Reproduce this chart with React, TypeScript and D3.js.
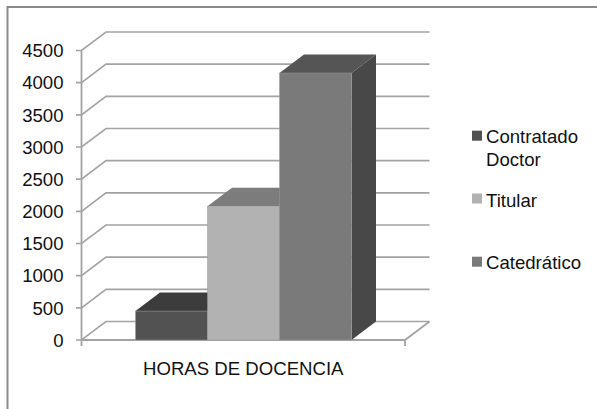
import React from "react";
import * as d3 from "d3";

const seriesNames = ["Contratado Doctor", "Titular", "Catedrático"];
const seriesValues = [450, 2080, 4150];
const category = "HORAS DE DOCENCIA";
const yTicks = [0, 500, 1000, 1500, 2000, 2500, 3000, 3500, 4000, 4500];
const legendLines = [["Contratado", "Doctor"], ["Titular"], ["Catedrático"]];
const fronts = ["#525252", "#b2b2b2", "#7a7a7a"];
const tops = ["#3c3c3c", "#7c7c7c", "#555555"];
const sides = ["#3a3a3a", "#6c6c6c", "#484848"];

const W = 597, H = 409;
const X0 = 81.5, X1 = 405, DX = 24.5, DY = 18.5;
const y = d3.scaleLinear().domain([0, 4500]).range([340, 50.5]);
const xOuter = d3.scaleBand<string>().domain([category]).range([X0, X1]);
const x = d3.scaleBand<string>().domain(seriesNames)
  .range([135.5, 351.5]).paddingInner(0).paddingOuter(0);
const FONT = "'Liberation Sans', Arial, sans-serif";
const FS = 18.6;
const GRID = "#a3a3a3";
const legendSwatchY = [130.7, 193.5, 256.7];
const legendBaseY = [143, 206.5, 269.3];

export default function App() {
  const pts = (a: number[][]) => a.map((p) => p.join(",")).join(" ");
  return (
    <svg width={W} height={H} style={{ position: "absolute", left: 0, top: 0 }}>
      <rect width={W} height={H} fill="#fff" />
      <path d={`M7.5,${H}V7H${W}`} fill="none" stroke="#8a8a8a" strokeWidth={2} />
      {yTicks.map((t) => (
        <g key={t}>
          <path
            d={`M${X0 - 5.5},${y(t)}H${X0}L${X0 + DX},${y(t) - DY}H${X1 + DX}`}
            fill="none" stroke={GRID} strokeWidth={1.6}
          />
          <text x={63.5} y={y(t) + 6.8} textAnchor="end" fontFamily={FONT} fontSize={FS} fill="#111">{t}</text>
        </g>
      ))}
      <path d={`M${X0},${y(4500)}V${y(0) + 6}M${X0},${y(0)}H${X1}L${X1 + DX},${y(0) - DY}M${X1},${y(0)}v6`}
        fill="none" stroke={GRID} strokeWidth={1.8} />
      {seriesNames.map((s, i) => {
        const l = x(s)!, r = l + x.bandwidth(), t = y(seriesValues[i]), b = y(0);
        return (
          <g key={s}>
            <polygon points={pts([[r, b], [r + DX, b - DY], [r + DX, t - DY], [r, t]])} fill={sides[i]} />
            <polygon points={pts([[l, t], [l + DX, t - DY], [r + DX, t - DY], [r, t]])} fill={tops[i]} />
          </g>
        );
      })}
      {seriesNames.map((s, i) => {
        const t = y(seriesValues[i]);
        return <rect key={s} x={x(s)} y={t} width={x.bandwidth()} height={y(0) - t} fill={fronts[i]} stroke="#9a9a9a" strokeWidth={0.5} />;
      })}
      <text x={xOuter(category)! + xOuter.bandwidth() / 2} y={375} textAnchor="middle" fontFamily={FONT} fontSize={FS} fill="#111">{category}</text>
      {legendLines.map((lines, i) => (
        <g key={i}>
          <rect x={472} y={legendSwatchY[i]} width={10} height={10} fill={fronts[i]} />
          {lines.map((ln, j) => (
            <text key={ln} x={486} y={legendBaseY[i] + j * 22.5} fontFamily={FONT} fontSize={FS} fill="#111">{ln}</text>
          ))}
        </g>
      ))}
    </svg>
  );
}
